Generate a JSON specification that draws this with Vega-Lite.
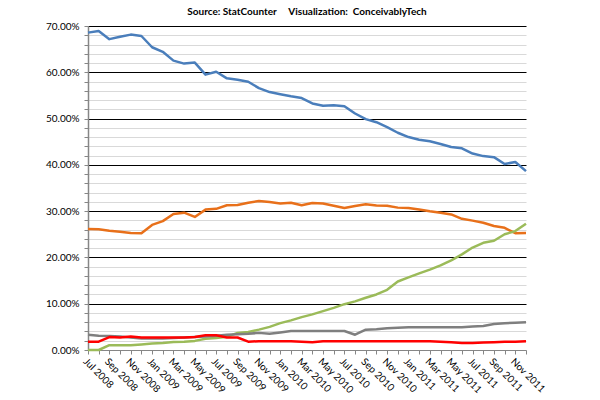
{
  "$schema": "https://vega.github.io/schema/vega-lite/v6.json",
  "width": 438,
  "height": 324,
  "autosize": "none",
  "padding": {"left": 88, "top": 26, "right": 74, "bottom": 50},
  "background": "white",
  "title": {
    "text": "Source: StatCounter\u00a0\u00a0\u00a0\u00a0\u00a0Visualization:\u00a0\u00a0ConceivablyTech",
    "font": "Lato",
    "fontSize": 10,
    "fontWeight": "bold",
    "color": "black",
    "anchor": "middle",
    "offset": 4
  },
  "data": {
    "values": [
      {"month": "Jul 2008", "IE": 68.57, "Firefox": 26.14, "Chrome": 0, "Safari": 3.3, "Opera": 1.8},
      {"month": "Aug 2008", "IE": 68.91, "Firefox": 26.08, "Chrome": 0, "Safari": 3.1, "Opera": 1.8},
      {"month": "Sep 2008", "IE": 67.16, "Firefox": 25.77, "Chrome": 1.03, "Safari": 3.0, "Opera": 2.8},
      {"month": "Oct 2008", "IE": 67.68, "Firefox": 25.54, "Chrome": 1.02, "Safari": 2.9, "Opera": 2.7},
      {"month": "Nov 2008", "IE": 68.14, "Firefox": 25.27, "Chrome": 1.02, "Safari": 2.7, "Opera": 2.9},
      {"month": "Dec 2008", "IE": 67.84, "Firefox": 25.23, "Chrome": 1.21, "Safari": 2.5, "Opera": 2.7},
      {"month": "Jan 2009", "IE": 65.41, "Firefox": 27.03, "Chrome": 1.38, "Safari": 2.5, "Opera": 2.7},
      {"month": "Feb 2009", "IE": 64.43, "Firefox": 27.85, "Chrome": 1.52, "Safari": 2.5, "Opera": 2.7},
      {"month": "Mar 2009", "IE": 62.52, "Firefox": 29.4, "Chrome": 1.73, "Safari": 2.6, "Opera": 2.7},
      {"month": "Apr 2009", "IE": 61.88, "Firefox": 29.67, "Chrome": 1.78, "Safari": 2.7, "Opera": 2.7},
      {"month": "May 2009", "IE": 62.09, "Firefox": 28.75, "Chrome": 1.97, "Safari": 2.8, "Opera": 2.8},
      {"month": "Jun 2009", "IE": 59.49, "Firefox": 30.33, "Chrome": 2.42, "Safari": 2.9, "Opera": 3.2},
      {"month": "Jul 2009", "IE": 60.11, "Firefox": 30.5, "Chrome": 2.59, "Safari": 3.1, "Opera": 3.2},
      {"month": "Aug 2009", "IE": 58.69, "Firefox": 31.28, "Chrome": 2.84, "Safari": 3.3, "Opera": 2.7},
      {"month": "Sep 2009", "IE": 58.37, "Firefox": 31.34, "Chrome": 3.69, "Safari": 3.4, "Opera": 2.7},
      {"month": "Oct 2009", "IE": 57.96, "Firefox": 31.82, "Chrome": 3.9, "Safari": 3.5, "Opera": 1.8},
      {"month": "Nov 2009", "IE": 56.57, "Firefox": 32.21, "Chrome": 4.4, "Safari": 3.7, "Opera": 1.9},
      {"month": "Dec 2009", "IE": 55.72, "Firefox": 31.97, "Chrome": 5.0, "Safari": 3.5, "Opera": 1.9},
      {"month": "Jan 2010", "IE": 55.25, "Firefox": 31.64, "Chrome": 5.8, "Safari": 3.8, "Opera": 1.9},
      {"month": "Feb 2010", "IE": 54.81, "Firefox": 31.82, "Chrome": 6.4, "Safari": 4.1, "Opera": 1.9},
      {"month": "Mar 2010", "IE": 54.44, "Firefox": 31.27, "Chrome": 7.1, "Safari": 4.1, "Opera": 1.8},
      {"month": "Apr 2010", "IE": 53.26, "Firefox": 31.74, "Chrome": 7.7, "Safari": 4.1, "Opera": 1.7},
      {"month": "May 2010", "IE": 52.77, "Firefox": 31.64, "Chrome": 8.4, "Safari": 4.1, "Opera": 1.9},
      {"month": "Jun 2010", "IE": 52.86, "Firefox": 31.15, "Chrome": 9.1, "Safari": 4.1, "Opera": 1.9},
      {"month": "Jul 2010", "IE": 52.68, "Firefox": 30.69, "Chrome": 9.9, "Safari": 4.1, "Opera": 1.9},
      {"month": "Aug 2010", "IE": 51.1, "Firefox": 31.09, "Chrome": 10.5, "Safari": 3.3, "Opera": 1.9},
      {"month": "Sep 2010", "IE": 49.87, "Firefox": 31.5, "Chrome": 11.3, "Safari": 4.4, "Opera": 1.9},
      {"month": "Oct 2010", "IE": 49.21, "Firefox": 31.24, "Chrome": 12.0, "Safari": 4.5, "Opera": 1.9},
      {"month": "Nov 2010", "IE": 48.16, "Firefox": 31.17, "Chrome": 13.0, "Safari": 4.7, "Opera": 1.9},
      {"month": "Dec 2010", "IE": 46.94, "Firefox": 30.76, "Chrome": 14.8, "Safari": 4.8, "Opera": 1.9},
      {"month": "Jan 2011", "IE": 46.0, "Firefox": 30.68, "Chrome": 15.68, "Safari": 4.9, "Opera": 1.9},
      {"month": "Feb 2011", "IE": 45.44, "Firefox": 30.37, "Chrome": 16.54, "Safari": 4.9, "Opera": 1.9},
      {"month": "Mar 2011", "IE": 45.11, "Firefox": 29.98, "Chrome": 17.37, "Safari": 4.9, "Opera": 1.9},
      {"month": "Apr 2011", "IE": 44.52, "Firefox": 29.67, "Chrome": 18.29, "Safari": 4.9, "Opera": 1.8},
      {"month": "May 2011", "IE": 43.87, "Firefox": 29.29, "Chrome": 19.36, "Safari": 4.9, "Opera": 1.7},
      {"month": "Jun 2011", "IE": 43.58, "Firefox": 28.34, "Chrome": 20.65, "Safari": 4.9, "Opera": 1.5},
      {"month": "Jul 2011", "IE": 42.45, "Firefox": 27.95, "Chrome": 22.14, "Safari": 5.1, "Opera": 1.5},
      {"month": "Aug 2011", "IE": 41.89, "Firefox": 27.49, "Chrome": 23.16, "Safari": 5.2, "Opera": 1.6},
      {"month": "Sep 2011", "IE": 41.66, "Firefox": 26.79, "Chrome": 23.61, "Safari": 5.6, "Opera": 1.7},
      {"month": "Oct 2011", "IE": 40.18, "Firefox": 26.39, "Chrome": 25.0, "Safari": 5.8, "Opera": 1.8},
      {"month": "Nov 2011", "IE": 40.63, "Firefox": 25.23, "Chrome": 25.69, "Safari": 5.9, "Opera": 1.8},
      {"month": "Dec 2011", "IE": 38.65, "Firefox": 25.27, "Chrome": 27.27, "Safari": 6.0, "Opera": 1.9}
    ]
  },
  "transform": [
    {"fold": ["IE", "Firefox", "Chrome", "Safari", "Opera"], "as": ["browser", "share"]}
  ],
  "mark": {"type": "line", "strokeWidth": 2.5, "strokeJoin": "round"},
  "encoding": {
    "x": {
      "field": "month",
      "type": "ordinal",
      "sort": null,
      "scale": {"type": "point", "padding": 0},
      "axis": {
        "title": null,
        "labelAngle": 45,
        "labelAlign": "left",
        "labelBaseline": "top",
        "labelPadding": 2,
        "labelFontSize": 10,
        "labelFont": "Lato",
        "labelColor": "black",
        "labelOverlap": false,
        "labelExpr": "indexof(['Jan','Mar','May','Jul','Sep','Nov'], slice(datum.label, 0, 3)) >= 0 ? datum.label : ''",
        "tickSize": 4,
        "tickColor": "#868686",
        "domainColor": "#868686",
        "grid": false
      }
    },
    "y": {
      "field": "share",
      "type": "quantitative",
      "scale": {"domain": [0, 70], "nice": false, "zero": true},
      "axis": {
        "title": null,
        "values": [0, 2, 4, 6, 8, 10, 12, 14, 16, 18, 20, 22, 24, 26, 28, 30, 32, 34, 36, 38, 40, 42, 44, 46, 48, 50, 52, 54, 56, 58, 60, 62, 64, 66, 68, 70],
        "labelExpr": "datum.value % 10 === 0 ? format(datum.value, '.2f') + '%' : ''",
        "labelFontSize": 10,
        "labelFont": "Lato",
        "labelColor": "black",
        "labelPadding": 5,
        "tickSize": 4,
        "tickColor": "#868686",
        "domainColor": "#868686",
        "domainWidth": 1.5,
        "grid": true,
        "gridColor": {"condition": {"test": "datum.value % 10 === 0 && datum.value > 0", "value": "black"}, "value": "#d9d9d9"},
        "gridWidth": 1.2,
        "gridOpacity": 1
      }
    },
    "color": {
      "field": "browser",
      "type": "nominal",
      "scale": {
        "domain": ["IE", "Firefox", "Chrome", "Safari", "Opera"],
        "range": ["#4A7EBB", "#E8701A", "#9BBB59", "#7F7F7F", "#FF0000"]
      },
      "legend": null
    }
  },
  "config": {"view": {"stroke": null}, "font": "Lato"}
}
